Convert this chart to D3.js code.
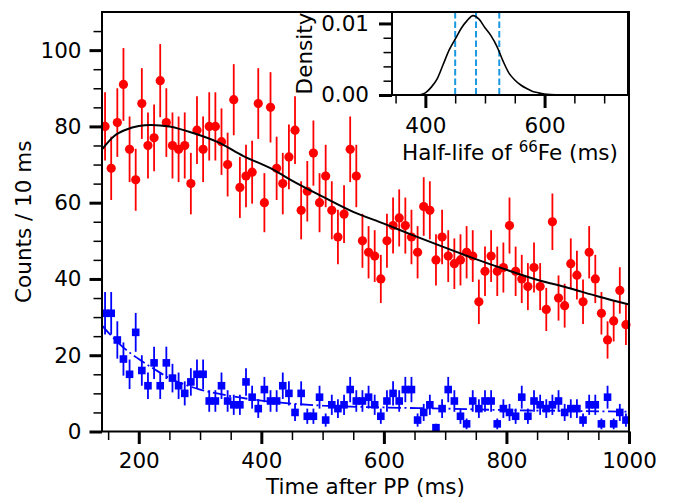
<!DOCTYPE html>
<html>
<head>
<meta charset="utf-8">
<script src="https://cdn.jsdelivr.net/npm/d3@7"></script>
<style>
  body { margin: 0; background: #fff; }
  svg { display: block; font-family: "DejaVu Sans", sans-serif; }
</style>
</head>
<body>
<svg id="chart" width="683" height="502"></svg>
<script>
/** ---------- data ---------- */
// 10 ms bins, centres 145 ... 995 ms
const binCentres = d3.range(145, 1000, 10);

const countsA = [
  80, 69, 81, 91, 74, 66, 86, 75, 77, 92, 81, 75, 74, 75, 65, 79, 74, 80, 80, 76,
  70, 87, 64, 67, 68, 86, 60, 85, 69, 65, 72, 79, 58, 63, 73, 60, 67, 58, 51, 57,
  74, 67, 50, 47, 46, 40, 50, 54, 56, 54, 51, 47, 59, 58, 45, 51, 46, 44, 45, 47,
  46, 34, 42, 46, 42, 43, 54, 42, 40, 38, 43, 38, 32, 55, 35, 33, 44, 41, 34, 47,
  40, 31, 24, 29, 37, 28
];

const countsB = [
  31, 31, 24, 19, 15, 26, 16, 12, 18, 12, 18, 14, 12, 10, 13, 15, 15, 8, 8, 12,
  8, 7, 7, 13, 9, 6, 11, 8, 8, 12, 10, 5, 10, 4, 4, 9, 3, 7, 6, 7,
  11, 8, 8, 9, 7, 4, 8, 10, 8, 11, 11, 3, 5, 7, 1, 6, 11, 8, 4, 2,
  8, 6, 8, 8, 2, 6, 5, 4, 9, 4, 8, 7, 6, 7, 8, 5, 6, 6, 3, 7,
  7, 2, 9, 2, 5, 3
];

// fitted curves sampled from the figure: [time ms, counts]
const fitA = [
  [140, 74.0], [160, 77.5], [180, 79.2], [200, 80.1], [220, 80.4], [250, 80.0],
  [290, 78.2], [330, 75.8], [370, 72.3], [420, 68.6], [450, 65.8], [500, 61.6],
  [550, 57.6], [600, 54.5], [650, 51.3], [700, 48.2], [750, 45.2], [800, 42.4],
  [850, 39.8], [900, 37.7], [950, 35.4], [1000, 33.3]
];

const fitB = [
  [140, 27.8], [150, 26.0], [175, 22.0], [200, 19.0], [225, 16.4], [250, 14.0],
  [275, 12.3], [300, 11.0], [350, 9.3], [400, 8.1], [450, 7.3], [500, 6.8],
  [600, 6.3], [700, 6.0], [800, 5.6], [900, 5.4], [1000, 5.2]
];

// inset: posterior density of the half-life
const halfLifeGrid = [390, 400, 410, 420, 430, 440, 450, 460, 470, 480, 490, 500,
  510, 520, 530, 540, 550, 560, 570, 580, 590, 600, 610, 620, 630];
const halfLifeDensity = [0, 0.0003, 0.0011, 0.0023, 0.0043, 0.0063, 0.0078, 0.0093,
  0.0104, 0.0111, 0.0106, 0.0094, 0.0083, 0.0068, 0.0048, 0.0031, 0.0021, 0.0014,
  0.0009, 0.0005, 0.0003, 0.00015, 0.00007, 0.00003, 0];
const halfLifeQuantiles = [450, 485, 524];

const xMajor = [200, 400, 600, 800, 1000];
const xMinor = [150, 250, 300, 350, 450, 500, 550, 650, 700, 750, 850, 900, 950];
const yMajor = [0, 20, 40, 60, 80, 100];
const yMinor = [5, 10, 15, 25, 30, 35, 45, 50, 55, 65, 70, 75, 85, 90, 95, 105];

const insetXMajor = [400, 600];
const insetXMinor = [350, 450, 500, 550, 650, 700];
const insetYMajor = [0, 0.01];
const insetYMinor = [0.002, 0.004, 0.006, 0.008];

/** ---------- layout ---------- */
const svg = d3.select("#chart");
const FONT = 21.5;
const box = { left: 102, right: 629, top: 12, bottom: 431.5 };
const ibox = { left: 392, right: 628, top: 12, bottom: 95 };

const x = d3.scaleLinear().domain([140, 1000]).range([box.left, box.right]);
const y = d3.scaleLinear().domain([0, 110]).range([box.bottom, box.top]);

const ix = d3.scaleLinear().domain([344, 740]).range([ibox.left, ibox.right]);
const iy = d3.scaleLinear().domain([0, 0.0116]).range([ibox.bottom, ibox.top]);

function styleAxis(g, width, labelled) {
  g.select(".domain").remove();
  g.selectAll(".tick line").attr("stroke", "#000").attr("stroke-width", width);
  g.selectAll(".tick text").attr("fill", "#000").style("font-size", `${FONT}px`)
    .style("font-family", "DejaVu Sans");
  if (!labelled) g.selectAll(".tick text").remove();
}

function drawAxes(xs, ys, b, ax, fmtX, fmtY) {
  svg.append("g").attr("transform", `translate(0,${b.bottom})`)
    .call(d3.axisBottom(xs).tickValues(ax.xMin).tickSize(8.5))
    .call(g => styleAxis(g, 1.5, false));
  svg.append("g").attr("transform", `translate(0,${b.bottom})`)
    .call(d3.axisBottom(xs).tickValues(ax.xMaj).tickSize(ax.len).tickPadding(ax.padX).tickFormat(fmtX))
    .call(g => styleAxis(g, 3, true));
  svg.append("g").attr("transform", `translate(${b.left},0)`)
    .call(d3.axisLeft(ys).tickValues(ax.yMin).tickSize(8.5))
    .call(g => styleAxis(g, 1.5, false));
  svg.append("g").attr("transform", `translate(${b.left},0)`)
    .call(d3.axisLeft(ys).tickValues(ax.yMaj).tickSize(ax.len).tickPadding(ax.padY).tickFormat(fmtY))
    .call(g => styleAxis(g, 3, true));
  svg.append("rect")
    .attr("x", b.left).attr("y", b.top)
    .attr("width", b.right - b.left).attr("height", b.bottom - b.top)
    .attr("fill", "none").attr("stroke", "#000").attr("stroke-width", 2);
}

/** ---------- main panel ---------- */
const main = svg.append("g");

function drawSeries(counts, color, shape) {
  const pts = counts.map((c, i) => ({ t: binCentres[i], c }));
  main.append("g").selectAll("line")
    .data(pts).join("line")
    .attr("x1", d => x(d.t)).attr("x2", d => x(d.t))
    .attr("y1", d => y(d.c - Math.sqrt(d.c)))
    .attr("y2", d => y(d.c + Math.sqrt(d.c)))
    .attr("stroke", color).attr("stroke-width", 1.8);
  if (shape === "circle") {
    main.append("g").selectAll("circle")
      .data(pts).join("circle")
      .attr("cx", d => x(d.t)).attr("cy", d => y(d.c)).attr("r", 4.6)
      .attr("fill", color);
  } else {
    main.append("g").selectAll("rect")
      .data(pts).join("rect")
      .attr("x", d => x(d.t) - 3.8).attr("y", d => y(d.c) - 3.8)
      .attr("width", 7.6).attr("height", 7.6)
      .attr("fill", color);
  }
}

drawSeries(countsA, "#ff0000", "circle");
drawSeries(countsB, "#0000ff", "square");

const fitLine = d3.line().x(d => x(d[0])).y(d => y(d[1])).curve(d3.curveMonotoneX);

main.append("path").attr("d", fitLine(fitA))
  .attr("fill", "none").attr("stroke", "#000").attr("stroke-width", 2);
main.append("path").attr("d", fitLine(fitB))
  .attr("fill", "none").attr("stroke", "#0000ff").attr("stroke-width", 1.8)
  .attr("stroke-dasharray", "13,3.5,2,3.5");

drawAxes(x, y, box,
  { xMaj: xMajor, xMin: xMinor, yMaj: yMajor, yMin: yMinor, len: 12.5, padX: 9, padY: 8 },
  d3.format("d"), d3.format("d"));

svg.append("text")
  .attr("x", (box.left + box.right) / 2).attr("y", 494)
  .attr("text-anchor", "middle").style("font-size", `${FONT}px`)
  .text("Time after PP (ms)");

svg.append("text")
  .attr("transform", `translate(31,${(box.top + box.bottom) / 2}) rotate(-90)`)
  .attr("text-anchor", "middle").style("font-size", `${FONT}px`)
  .text("Counts / 10 ms");

/** ---------- inset ---------- */
svg.append("rect")
  .attr("x", ibox.left).attr("y", ibox.top)
  .attr("width", ibox.right - ibox.left).attr("height", ibox.bottom - ibox.top)
  .attr("fill", "#fff");

svg.append("g").selectAll("line")
  .data(halfLifeQuantiles).join("line")
  .attr("x1", d => ix(d)).attr("x2", d => ix(d))
  .attr("y1", ibox.top).attr("y2", ibox.bottom)
  .attr("stroke", "#1a98e2").attr("stroke-width", 2)
  .attr("stroke-dasharray", "6.5,3");

const densityLine = d3.line()
  .x((d, i) => ix(halfLifeGrid[i]))
  .y(d => iy(d))
  .curve(d3.curveMonotoneX);

svg.append("path").attr("d", densityLine(halfLifeDensity))
  .attr("fill", "none").attr("stroke", "#000").attr("stroke-width", 1.6);

drawAxes(ix, iy, ibox,
  { xMaj: insetXMajor, xMin: insetXMinor, yMaj: insetYMajor, yMin: insetYMinor, len: 13, padX: 10, padY: 10 },
  d3.format("d"), d3.format(".2f"));

const hl = svg.append("text")
  .attr("x", (ibox.left + ibox.right) / 2).attr("y", 160)
  .attr("text-anchor", "middle").style("font-size", `${FONT}px`);
hl.append("tspan").text("Half-life of ");
hl.append("tspan").attr("dy", -8.5).style("font-size", "15px").text("66");
hl.append("tspan").attr("dy", 8.5).text("Fe (ms)");

svg.append("text")
  .attr("transform", `translate(312,${(ibox.top + ibox.bottom) / 2}) rotate(-90)`)
  .attr("text-anchor", "middle").style("font-size", `${FONT}px`)
  .text("Density");
</script>
</body>
</html>
